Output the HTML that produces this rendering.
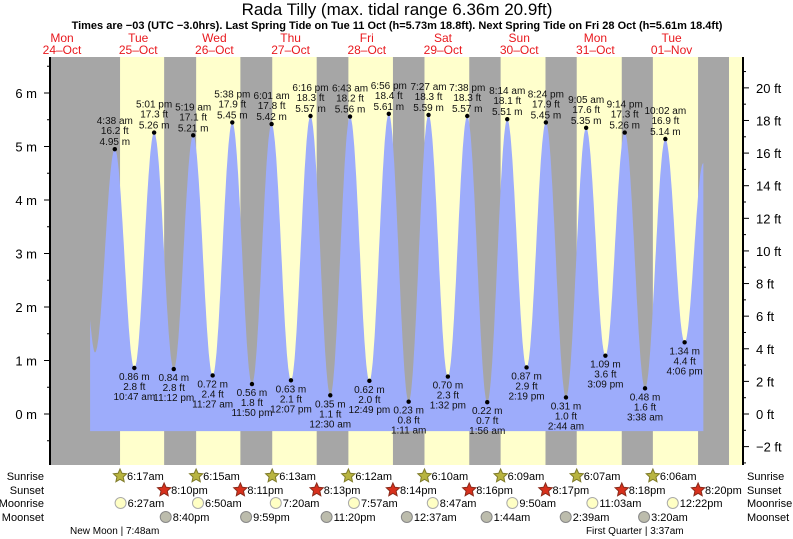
<!DOCTYPE html>
<html><head><meta charset="utf-8"><style>
body{margin:0;background:#fff;}
svg{display:block;font-family:"Liberation Sans",sans-serif;}
</style></head><body>
<svg id="chart" width="793" height="539" viewBox="0 0 793 539">
<text x="397" y="15" font-size="17" text-anchor="middle">Rada Tilly (max. tidal range 6.36m 20.9ft)</text>
<text x="397" y="29" font-size="11" font-weight="bold" text-anchor="middle">Times are −03 (UTC −3.0hrs). Last Spring Tide on Tue 11 Oct (h=5.73m 18.8ft). Next Spring Tide on Fri 28 Oct (h=5.61m 18.4ft)</text>
<g id="days"></g>
<g id="plot"></g>
<g id="axes"></g>
<g id="astro"></g>
</svg>
<script>
const dayNames=["Mon","Tue","Wed","Thu","Fri","Sat","Sun","Mon","Tue"];
const dayDates=["24\u2013Oct","25\u2013Oct","26\u2013Oct","27\u2013Oct","28\u2013Oct","29\u2013Oct","30\u2013Oct","31\u2013Oct","01\u2013Nov"];
// tide events: day offset from Oct 25, time, height (m), type
const tideDay=[0,0,0,0,1,1,1,1,2,2,2,3,3,3,3,4,4,4,4,5,5,5,5,6,6,6,6,7,7,7];
const tideTime=["4:38 am","10:47 am","5:01 pm","11:12 pm","5:19 am","11:27 am","5:38 pm","11:50 pm","6:01 am","12:07 pm","6:16 pm","12:30 am","6:43 am","12:49 pm","6:56 pm","1:11 am","7:27 am","1:32 pm","7:38 pm","1:56 am","8:14 am","2:19 pm","8:24 pm","2:44 am","9:05 am","3:09 pm","9:14 pm","3:38 am","10:02 am","4:06 pm"];
const tideHeight=[4.95,0.86,5.26,0.84,5.21,0.72,5.45,0.56,5.42,0.63,5.57,0.35,5.56,0.62,5.61,0.23,5.59,0.70,5.57,0.22,5.51,0.87,5.45,0.31,5.35,1.09,5.26,0.48,5.14,1.34];
const tideType=["H","L","H","L","H","L","H","L","H","L","H","L","H","L","H","L","H","L","H","L","H","L","H","L","H","L","H","L","H","L"];
// curve boundary values (hours from Oct 25 00:00, height m)
const curveStart=[-3.15,1.76];
const curveLow0=[-1.6,1.15];
const curveEnd=[190,4.69];
const sunrise=["6:17am","6:15am","6:13am","6:12am","6:10am","6:09am","6:07am","6:06am","6:05am"];
const sunset=["8:10pm","8:11pm","8:13pm","8:14pm","8:16pm","8:17pm","8:18pm","8:20pm"];
const moonriseDay=[0,1,2,3,4,5,6,7];
const moonrise=["6:27am","6:50am","7:20am","7:57am","8:47am","9:50am","11:03am","12:22pm"];
const moonsetDay=[0,1,2,4,5,6,7];
const moonset=["8:40pm","9:59pm","11:20pm","12:37am","1:44am","2:39am","3:20am"];
const phaseDay=[-1,6];
const phaseText=["New Moon | 7:48am","First Quarter | 3:37am"];
const phaseTime=["7:48am","3:37am"];

const NS="http://www.w3.org/2000/svg";
const X0=100.1,PXH=3.175,Y0=414,PXM=53.5,L=50,R=743,T=57,B=465;
const xs=h=>X0+h*PXH, ym=m=>Y0-m*PXM;
function ph(s){const m=s.match(/(\d+):(\d+)\s*(am|pm)/);let h=+m[1]%12;if(m[3]=="pm")h+=12;return h+ +m[2]/60;}
function mk(p,tag,a,txt){const e=document.createElementNS(NS,tag);for(const k in a)e.setAttribute(k,a[k]);if(txt!=null)e.textContent=txt;p.appendChild(e);return e;}
const days=document.getElementById('days'),plot=document.getElementById('plot'),axes=document.getElementById('axes'),astro=document.getElementById('astro');

dayNames.forEach((n,i)=>{const x=xs((i-1)*24+12);
 let t=mk(days,'text',{x:x,y:42,'font-size':12,fill:'#e8191e','text-anchor':'middle'},n);
 
 t=mk(days,'text',{x:x,y:54,'font-size':12,fill:'#e8191e','text-anchor':'middle'},dayDates[i]);
 });

let bg=mk(plot,'rect',{x:L,y:T,width:R-L,height:B-T,fill:'#a6a6a6'});

sunrise.forEach((s,i)=>{const a=xs(i*24+ph(s));const b=i<sunset.length?xs(i*24+ph(sunset[i])):R;
 const r=mk(plot,'rect',{x:a,y:T,width:Math.min(b,R)-a,height:B-T,fill:'#ffffcc'});
 });

// tide curve
const ev=[curveLow0.slice()];
tideTime.forEach((t,i)=>ev.push([tideDay[i]*24+ph(t),tideHeight[i]]));
ev.push(curveEnd.slice());
let pts=[[xs(curveStart[0]),ym(curveStart[1])]];
for(let h=curveStart[0];h<=curveEnd[0]+0.01;h+=0.2){
 let v;
 if(h<ev[0][0]){const a=curveStart,b=ev[0];const f=(h-a[0])/(b[0]-a[0]);v=a[1]+(b[1]-a[1])*Math.sin(f*Math.PI/2);}
 else{let k=0;while(k<ev.length-2&&ev[k+1][0]<h)k++;
  const a=ev[k],b=ev[k+1];
  const f=Math.min(1,(h-a[0])/(b[0]-a[0]));v=a[1]+(b[1]-a[1])*(1-Math.cos(Math.PI*f))/2;}
 pts.push([xs(h),ym(v)]);}
let d="M"+xs(curveStart[0])+","+ym(-0.32)+" "+pts.map(p=>"L"+p[0].toFixed(1)+","+p[1].toFixed(1)).join(" ")+" L"+xs(curveEnd[0])+","+ym(curveEnd[1])+" L"+xs(curveEnd[0])+","+ym(-0.32)+"Z";
const area=mk(plot,'path',{d:d,fill:'#9dacfb'});


tideTime.forEach((t,i)=>{const x=xs(tideDay[i]*24+ph(t)),y=ym(tideHeight[i]);
 const dot=mk(plot,'circle',{cx:x,cy:y,r:2.2,fill:'#000'});
 
 const ft=(tideHeight[i]*3.28084).toFixed(1)+" ft",m=tideHeight[i].toFixed(2)+" m";
 const lines=tideType[i]=="H"?[[t,y-25],[ft,y-15],[m,y-4]]:[[m,y+12],[ft,y+22],[t,y+32]];
 lines.forEach(l=>{const e=mk(plot,'text',{x:x,y:l[1],'font-size':10,'text-anchor':'middle',fill:'#111'},l[0]);
  });});

// axes
let ax=mk(axes,'line',{x1:L,y1:T,x2:L,y2:B,stroke:'#000','stroke-width':2});

ax=mk(axes,'line',{x1:R,y1:T,x2:R,y2:B,stroke:'#000','stroke-width':2});

for(let m=-0.5;m<=6.5;m+=0.5){const y=ym(m);if(y<T||y>B)continue;const maj=Math.abs(m-Math.round(m))<0.01;
 mk(axes,'line',{x1:L-(maj?6:3),y1:y,x2:L,y2:y,stroke:'#000'});
 if(maj){const e=mk(axes,'text',{x:37,y:y+5,'font-size':13,'text-anchor':'end'},Math.round(m)+" m");
  }}
for(let f=-3;f<=21;f++){const y=ym(f*0.3048);if(y<T||y>B)continue;const maj=f%2==0;
 mk(axes,'line',{x1:R,y1:y,x2:R+(maj?6:3),y2:y,stroke:'#000'});
 if(maj){const e=mk(axes,'text',{x:756,y:y+5,'font-size':13},(f<0?"\u2212"+(-f):f)+" ft");
  }}

// astro rows
const rows=[["Sunrise",480],["Sunset",494],["Moonrise",507],["Moonset",521]];
rows.forEach(r=>{let e=mk(astro,'text',{x:44,y:r[1],'font-size':11,'text-anchor':'end'},r[0]);
 
 e=mk(astro,'text',{x:747,y:r[1],'font-size':11},r[0]);
 });
function star(cx,cy,fill,stroke){let p="";for(let k=0;k<10;k++){const a=-Math.PI/2+k*Math.PI/5,rr=k%2?3.3:7;p+=(cx+rr*Math.cos(a)).toFixed(1)+","+(cy+rr*Math.sin(a)).toFixed(1)+" ";}
 return mk(astro,'polygon',{points:p,fill:fill,stroke:stroke,'stroke-width':1});}
function lab(x,y,t,n){const e=mk(astro,'text',{x:x,y:y,'font-size':11},t);}
sunrise.slice(0,8).forEach((s,i)=>{const x=xs(i*24+ph(s));const st=star(x,476,'#b8b440','#7f7b2a');
 lab(x+7,480,s,'sunrise-label');});
sunset.forEach((s,i)=>{const x=xs(i*24+ph(s));const st=star(x,490,'#d8301c','#8a2a1a');
 lab(x+7,494,s,'sunset-label');});
moonrise.forEach((s,i)=>{const x=xs(moonriseDay[i]*24+ph(s));const c=mk(astro,'circle',{cx:x,cy:503,r:5.5,fill:'#ffffc4',stroke:'#aaa'});
 lab(x+7,507,s,'moonrise-label');});
moonset.forEach((s,i)=>{const x=xs(moonsetDay[i]*24+ph(s));const c=mk(astro,'circle',{cx:x,cy:517,r:5.5,fill:'#bcbcac',stroke:'#888'});
 lab(x+7,521,s,'moonset-label');});
phaseText.forEach((t,i)=>{const x=xs(phaseDay[i]*24+ph(phaseTime[i]));const e=mk(astro,'text',{x:x+66,y:534,'font-size':10,'text-anchor':'middle'},t);
 });
</script>
</body></html>
